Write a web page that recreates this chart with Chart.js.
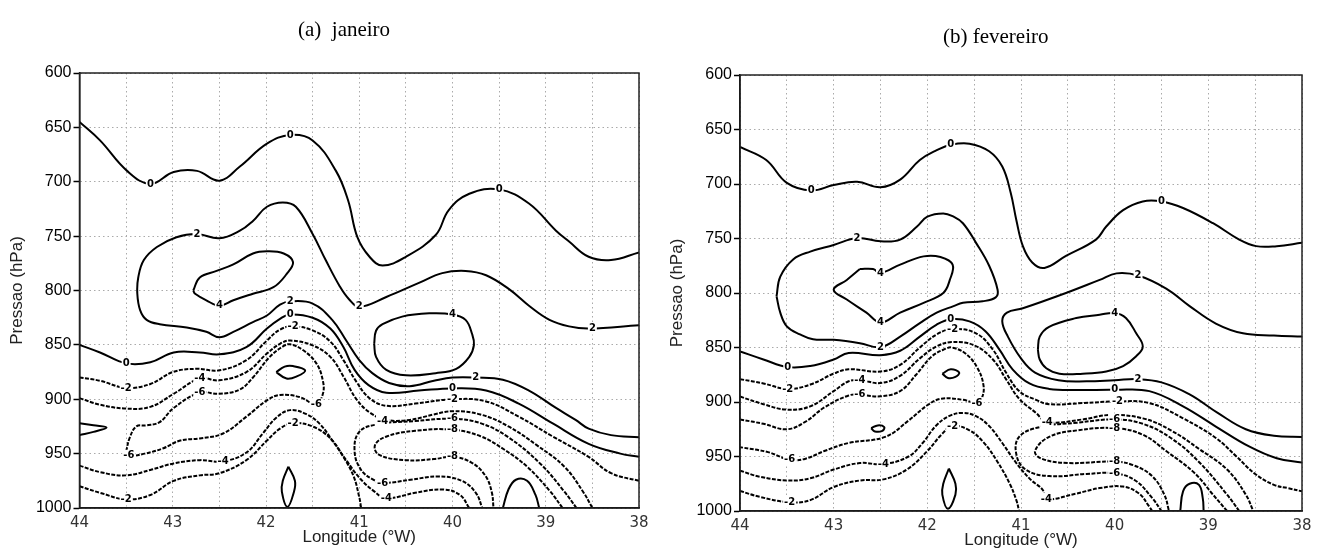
<!DOCTYPE html>
<html>
<head>
<meta charset="utf-8">
<script src="https://cdn.jsdelivr.net/npm/chart.js@4.4.1/dist/chart.umd.min.js"></script>
<style>
  body { margin: 0; background: #fff; width: 1325px; height: 551px; overflow: hidden; position: relative; }
  canvas { position: absolute; top: 0; }
</style>
</head>
<body>
<canvas id="graficoJan" width="660" height="551" style="left:0"></canvas>
<canvas id="graficoFev" width="665" height="551" style="left:660px"></canvas>
<script>
// eixos
const eixoLon = [44, 43, 42, 41, 40, 39, 38];
const eixoPressao = [600, 650, 700, 750, 800, 850, 900, 950, 1000];

// ---- janeiro: isolinhas como pares [longitude (°W), pressao (hPa)] ----
const janZero1 = [[44,645],[43.78,662],[43.49,690],[43.24,702],[42.99,691],[42.74,690],[42.5,699],[42.28,686],[41.99,665],[41.74,657],[41.5,662],[41.25,690],[41.12,717],[41.02,751],[40.89,769],[40.75,777],[40.5,769],[40.18,749],[40.04,726],[39.82,711],[39.5,707],[39.18,720],[38.89,745],[38.75,755],[38.54,769],[38.3,772],[38,765]];
const janDois = [[38,832],[38.54,835],[38.75,833],[38.96,827],[39.18,814],[39.39,799],[39.64,786],[39.86,782],[40.11,784],[40.36,793],[40.71,806],[41,815],[41.11,808],[41.21,796],[41.36,772],[41.5,748],[41.68,723],[41.82,719],[41.99,723],[42.14,736],[42.28,745],[42.5,752],[42.74,748],[42.96,751],[43.17,760],[43.31,772],[43.37,788],[43.38,803],[43.35,818],[43.28,827],[43.14,831],[42.85,834],[42.64,838],[42.5,843],[42.35,838],[42.14,829],[41.99,823],[41.85,813],[41.74,810],[41.5,812],[41.29,827],[41.14,846],[41,864],[40.86,876],[40.68,885],[40.46,888],[40.2,883],[40,880],[39.75,880],[39.46,882],[39.18,892],[38.89,908],[38.68,919],[38.54,927],[38.3,933],[38,935]];
const janQuatro1 = [[42.78,800],[42.71,788],[42.53,782],[42.35,776],[42.14,766],[41.99,764],[41.81,766],[41.71,774],[41.78,785],[41.92,797],[42.14,803],[42.35,809],[42.5,814],[42.64,809],[42.76,803],[42.78,800]];
const janQuatro2 = [[40.84,849],[40.82,837],[40.75,831],[40.54,824],[40.25,821],[40,822],[39.86,827],[39.79,840],[39.77,850],[39.82,861],[39.96,872],[40.18,876],[40.5,878],[40.71,873],[40.82,861],[40.84,849]];
const janZero2 = [[44,850],[43.78,857],[43.5,867],[43.24,866],[42.99,857],[42.71,857],[42.5,858.7],[42.21,852],[41.99,835],[41.85,826],[41.74,822],[41.5,825],[41.31,835],[41.17,852],[41.05,873],[40.9,887],[40.71,894],[40.36,892],[40,890],[39.64,892],[39.29,904],[38.93,922],[38.54,941],[38.2,950],[38,953]];
const janMenos2a = [[44,880],[43.78,883],[43.5,889.6],[43.24,886],[43,875],[42.75,872],[42.5,873.4],[42.21,864],[41.99,846],[41.85,836],[41.71,833],[41.5,836.7],[41.31,847],[41.17,864],[41.03,884],[40.89,899],[40.71,906],[40.4,904],[40,900],[39.64,902],[39.29,916],[38.93,934],[38.54,953],[38.3,968],[38,975]];
const janMenos4a = [[44,899],[43.78,905],[43.5,908.6],[43.24,907],[42.99,895],[42.71,881],[42.5,882.6],[42.21,875],[41.99,858],[41.85,849],[41.74,846],[41.5,850.5],[41.31,861],[41.17,879],[41.03,900],[40.89,912],[40.71,919],[40.46,919],[40.2,914],[40,911],[39.7,914],[39.4,925],[39.1,942],[38.8,962],[38.6,985],[38.5,1000]];
const janMenos6a = [[43.5,948],[43.46,935],[43.39,925],[43.28,924],[43.14,921],[42.99,908],[42.71,894],[42.5,895],[42.28,891],[42.14,880],[41.96,861],[41.81,851],[41.74,849.5],[41.6,855],[41.46,867],[41.39,883],[41.39,895],[41.46,904.6],[41.64,898],[41.85,896],[41.99,901],[42.21,916],[42.46,931.5],[42.71,936],[42.92,938],[43.1,945],[43.3,950],[43.47,952],[43.5,948]];
const janLingua = [[44,922],[43.85,924],[43.71,926],[43.85,930],[44,933]];
const janLaco = [[41.89,875],[41.8,870],[41.71,869.5],[41.58,873.4],[41.67,879],[41.78,881],[41.89,875]];
const janLacoBase = [[41.76,962],[41.82,975],[41.83,985],[41.77,999],[41.7,985],[41.69,975],[41.76,962]];
const janMenos4b = [[44,961],[43.78,967],[43.5,970],[43.24,965],[42.99,959],[42.71,956],[42.46,957],[42.21,949],[42.03,931],[41.89,917],[41.74,910],[41.56,914],[41.42,923],[41.28,939],[41.14,956],[41,972],[40.85,984],[40.71,991],[40.4,986],[40.1,983],[39.92,988],[39.82,1000]];
const janMenos2b = [[44,980],[43.78,986],[43.5,992],[43.24,988],[42.99,975],[42.71,970],[42.5,968],[42.21,956],[41.99,938],[41.85,927],[41.71,922],[41.5,925],[41.31,936],[41.17,953],[41.06,971],[41,990],[40.98,1000]];
const janMenos6b = [[38.67,1000],[38.8,985],[39.05,960],[39.4,935],[39.7,922],[40,918],[40.4,920],[40.8,923],[41,930],[41.05,948],[40.98,965],[40.85,974],[40.75,977],[40.45,974],[40.15,971],[39.9,975],[39.75,986],[39.68,1000]];
const janMenos8 = [[38.82,1000],[38.95,985],[39.2,962],[39.45,946],[39.7,934],[40,928],[40.4,929],[40.7,934],[40.83,942],[40.79,951],[40.5,956],[40.2,955],[40,953],[39.8,958],[39.65,970],[39.58,985],[39.56,1000]];
const janBolso = [[39.46,1000],[39.4,983],[39.32,974],[39.2,975],[39.11,988],[39.07,1000]];

const janRotulos = [
  [43.24,702,'0'],[41.74,657,'0'],[39.5,707,'0'],
  [42.74,748,'2'],[41.74,810,'2'],[41,815,'2'],[39.75,880,'2'],[38.5,835,'2'],
  [42.5,814,'4'],[40,822,'4'],
  [43.5,867,'0'],[41.74,822,'0'],[40,890,'0'],
  [43.5,889.6,'-2'],[41.71,833,'-2'],[40,900,'-2'],
  [42.71,881,'-4'],[40.75,920,'-4'],
  [42.71,894,'-6'],[41.46,904.6,'-6'],[43.47,952,'-6'],
  [40,918,'-6'],[40,928,'-8'],[40,953,'-8'],[40.75,977,'-6'],
  [42.46,957,'-4'],[40.71,991,'-4'],
  [41.71,922,'-2'],[43.5,992,'-2']
];

// ---- fevereiro ----
const fevZero1 = [[44,666],[43.72,678],[43.5,699],[43.24,706],[43,701],[42.75,698],[42.5,703],[42.29,696],[42.08,678],[41.9,669],[41.75,664],[41.55,663],[41.34,670],[41.2,684],[41.11,708],[41.05,733],[40.98,757],[40.88,772],[40.75,777],[40.52,766],[40.2,751],[40.09,739],[39.91,724],[39.7,716],[39.5,716],[39.27,722],[38.95,736],[38.67,751],[38.49,757],[38.27,757],[38,754]];
const fevDois1 = [[43.61,803],[43.57,785],[43.43,769],[43.25,762],[43,756],[42.75,749.6],[42.5,752.6],[42.29,751],[42.11,739],[42,730],[41.83,727],[41.72,730],[41.62,736],[41.48,754],[41.34,775],[41.25,797],[41.27,804],[41.41,807.6],[41.62,809],[41.72,812],[41.9,818],[42.08,827.6],[42.29,840],[42.5,849.7],[42.72,846],[43,843],[43.22,842.5],[43.36,838],[43.5,830.6],[43.57,818],[43.61,803]];
const fevQuatro1 = [[42.72,778],[42.58,778],[42.5,781.6],[42.29,774],[42.04,766.4],[41.86,767],[41.73,774],[41.76,788],[41.83,800],[42.04,809],[42.29,818],[42.5,827],[42.65,818],[42.86,806],[43,797],[42.86,788],[42.72,778]];
const fevDois2 = [[38,840],[38.3,839],[38.63,837],[38.92,828],[39.2,812],[39.45,796],[39.75,784],[39.98,782],[40.16,788],[40.52,800],[40.98,814],[41.15,818],[41.2,826],[41.14,840],[41,860],[40.85,873],[40.6,880],[40.3,881],[40,880],[39.75,879],[39.5,882],[39.2,893],[38.9,910],[38.6,925],[38.3,931],[38,932]];
const fevQuatro2 = [[40.82,852],[40.8,840],[40.7,831],[40.41,823],[40.16,820],[40,818.4],[39.88,823],[39.77,837],[39.7,849],[39.77,858],[39.91,867],[40.09,872],[40.34,874],[40.59,874],[40.73,869],[40.8,861],[40.82,852]];
const fevZero2 = [[44,853.6],[43.75,861],[43.49,868],[43.25,867],[43,861],[42.84,855],[42.5,857],[42.29,853],[42.08,840],[41.9,829],[41.75,824],[41.55,826],[41.38,835],[41.23,852],[41.09,870],[40.91,883],[40.7,888],[40.4,889],[40,888.8],[39.63,890],[39.27,904],[38.92,922.5],[38.56,941],[38.27,951.6],[38,955.6]];
const fevMenos2a = [[44,879],[43.75,883],[43.49,888],[43.25,884],[43,874],[42.84,870],[42.5,872],[42.29,866],[42.08,850],[41.9,838],[41.73,833],[41.48,837],[41.3,852],[41.16,873],[41.02,890],[40.84,898],[40.7,902],[40.34,901],[39.97,899.5],[39.63,901],[39.27,915],[38.92,933],[38.7,950],[38.5,966],[38.3,976],[38.15,979],[38,982]];
const fevMenos4a = [[44,895],[43.75,902],[43.5,907],[43.25,904],[43,890],[42.84,881],[42.72,880],[42.5,882.6],[42.29,876],[42.08,860],[41.9,849],[41.74,845],[41.5,848],[41.3,861],[41.16,879],[41.02,897],[40.84,910],[40.72,918.5],[40.34,916],[40.06,912],[39.7,915],[39.4,926],[39.1,943],[38.8,962],[38.6,985],[38.52,1000]];
const fevMenos6a = [[44,916],[43.75,920],[43.5,925],[43.3,918],[43.1,905],[42.84,894],[42.72,893.4],[42.5,894.8],[42.29,890],[42.12,875],[41.95,858],[41.8,851],[41.74,850],[41.6,855],[41.47,868],[41.4,885],[41.42,897],[41.47,901],[41.62,898],[41.85,897],[42,903],[42.2,917],[42.45,932],[42.84,937.6],[43.1,945],[43.3,952],[43.47,953],[43.7,946],[44,941.4]];
const fevLacinho = [[42.6,924],[42.53,921.5],[42.46,923],[42.48,926.5],[42.56,927],[42.6,924]];
const fevLaco = [[41.84,874],[41.75,870],[41.66,873],[41.7,877],[41.78,878],[41.84,874]];
const fevLacoBase = [[41.77,961],[41.83,975],[41.84,985],[41.78,998],[41.7,985],[41.7,975],[41.77,961]];
const fevMenos4b = [[44,963],[43.79,968.5],[43.49,972],[43.25,970],[43,962],[42.72,956],[42.47,957],[42.2,950],[42.05,937.6],[41.91,922],[41.77,913],[41.62,910],[41.48,913],[41.34,922],[41.2,937.6],[41.05,956],[40.9,971],[40.77,980.4],[40.73,989],[40.41,984],[40.16,979],[39.91,977.6],[39.74,984],[39.63,996],[39.6,1000]];
const fevMenos2b = [[44,981.6],[43.79,987],[43.47,992],[43.25,990],[43,978],[42.72,972],[42.47,971],[42.22,962],[42,945],[41.85,930],[41.73,922],[41.55,926],[41.4,937],[41.25,955],[41.12,975],[41.05,990],[41.02,1000]];
const fevMenos6b = [[38.67,1000],[38.8,985],[39.1,955],[39.4,933],[39.7,920],[40,916],[40.4,919],[40.8,923],[41.02,932],[41.05,948],[40.95,962],[40.7,968],[40.3,966],[40,965.4],[39.78,972],[39.6,988],[39.5,1000]];
const fevMenos8 = [[38.8,1000],[38.95,985],[39.15,965],[39.45,945],[39.7,930],[40,924],[40.4,926],[40.7,932],[40.85,945],[40.78,952],[40.5,956],[40,954.7],[39.8,958],[39.6,968],[39.47,985],[39.42,1000]];
const fevBolso = [[39.3,1000],[39.27,982],[39.2,975],[39.1,976],[39.06,988],[39.05,1000]];

const fevRotulos = [
  [43.24,706,'0'],[41.75,664,'0'],[39.5,716,'0'],
  [42.75,749.6,'2'],[42.5,849.7,'2'],[39.75,784,'2'],[39.75,879,'2'],
  [42.5,781.6,'4'],[42.5,827,'4'],[40,818.4,'4'],
  [43.49,868,'0'],[41.75,824,'0'],[40,888.8,'0'],
  [43.49,888,'-2'],[41.73,833,'-2'],[39.97,899.5,'-2'],
  [42.72,880,'-4'],[40.72,918.5,'-4'],
  [42.72,893.4,'-6'],[41.47,901,'-6'],[43.47,953,'-6'],
  [40,916,'-6'],[40,924,'-8'],[40,954.7,'-8'],[40,965.4,'-6'],
  [42.47,957,'-4'],[40.73,989,'-4'],
  [41.73,922,'-2'],[43.47,992,'-2']
];

// nivel de cada isolinha (negativas tracejadas)
const janIsolinhas = [
  [janZero1, 0], [janDois, 2], [janQuatro1, 4], [janQuatro2, 4], [janZero2, 0],
  [janMenos2a, -2], [janMenos4a, -4], [janMenos6a, -6], [janLingua, 0], [janLaco, 0],
  [janLacoBase, 0], [janMenos4b, -4], [janMenos2b, -2], [janMenos6b, -6], [janMenos8, -8], [janBolso, 0]
];
const fevIsolinhas = [
  [fevZero1, 0], [fevDois1, 2], [fevQuatro1, 4], [fevDois2, 2], [fevQuatro2, 4], [fevZero2, 0],
  [fevMenos2a, -2], [fevMenos4a, -4], [fevMenos6a, -6], [fevLacinho, 0], [fevLaco, 0],
  [fevLacoBase, 0], [fevMenos4b, -4], [fevMenos2b, -2], [fevMenos6b, -6], [fevMenos8, -8], [fevBolso, 0]
];

// moldura fechada em volta da area do grafico
const moldura = {
  id: 'moldura',
  afterDraw(chart) {
    const { ctx, chartArea: a } = chart;
    ctx.save();
    ctx.strokeStyle = '#222';
    ctx.lineWidth = 1.5;
    ctx.strokeRect(a.left, a.top, a.right - a.left, a.bottom - a.top);
    ctx.restore();
  }
};

// rotulos das isolinhas com fundo branco
const rotulos = {
  id: 'rotulos',
  afterDatasetsDraw(chart, args, opts) {
    const { ctx, scales: { x, y } } = chart;
    ctx.save();
    ctx.font = 'bold 10px "DejaVu Sans"';
    ctx.textAlign = 'center';
    ctx.textBaseline = 'middle';
    for (const [lon, p, txt] of opts.lista) {
      const px = x.getPixelForValue(lon);
      const py = y.getPixelForValue(p);
      const w = ctx.measureText(txt).width + 2;
      ctx.fillStyle = '#fff';
      ctx.fillRect(px - w / 2, py - 6, w, 12);
      ctx.fillStyle = '#000';
      ctx.fillText(txt, px, py);
    }
    ctx.restore();
  }
};

// titulo do painel (a)/(b)
const tituloPainel = {
  id: 'tituloPainel',
  afterDraw(chart, args, opts) {
    const { ctx } = chart;
    ctx.save();
    ctx.font = '21px "Liberation Serif"';
    ctx.fillStyle = '#000';
    ctx.textAlign = 'left';
    ctx.textBaseline = 'alphabetic';
    ctx.fillText(opts.texto, opts.x, opts.y);
    ctx.restore();
  }
};

function montarDatasets(isolinhas) {
  return isolinhas.map(([pontos, nivel]) => ({
    data: pontos.map(([x, y]) => ({ x, y })),
    showLine: true,
    pointRadius: 0,
    borderColor: '#000',
    borderWidth: 2,
    tension: 0.4,
    borderDash: nivel < 0 ? [4, 1.5] : []
  }));
}

function criarGrafico(id, isolinhas, lista, titulo, aj) {
  return new Chart(document.getElementById(id), {
    type: 'scatter',
    data: { datasets: montarDatasets(isolinhas) },
    options: {
      responsive: false,
      animation: false,
      events: [],
      layout: { padding: { left: 0, right: aj.direita, top: aj.topo, bottom: 0 } },
      plugins: {
        legend: { display: false },
        tooltip: { enabled: false },
        rotulos: { lista },
        tituloPainel: titulo
      },
      scales: {
        x: {
          type: 'linear', min: 38, max: 44, reverse: true,
          afterFit: s => { s.height = aj.alturaX; },
          ticks: {
            stepSize: 0.5, autoSkip: false, maxRotation: 0, padding: 6,
            font: { family: 'DejaVu Sans', size: 15 }, color: '#333',
            callback: v => eixoLon.includes(v) ? String(v) : ''
          },
          grid: { color: '#aaa', lineWidth: 1, drawTicks: false },
          border: { color: '#000', width: 1.5, dash: [1.5, 3] },
          title: {
            display: true, text: 'Longitude (°W)', color: '#222',
            font: { family: 'Liberation Sans', size: 17 },
            padding: { top: 0, bottom: aj.tituloX }
          }
        },
        y: {
          type: 'linear', min: 600, max: 1000, reverse: true,
          afterFit: s => { s.width = aj.larguraY; },
          ticks: {
            stepSize: 50, padding: 2,
            font: { family: 'Liberation Sans', size: 16 }, color: '#000',
            callback: v => eixoPressao.includes(v) ? String(v) : ''
          },
          grid: { color: '#aaa', lineWidth: 1, tickColor: '#000', tickLength: 6, tickWidth: 1.5 },
          border: { color: '#000', width: 1.5, dash: [1.5, 3] },
          title: {
            display: true, text: 'Pressao (hPa)', color: '#222',
            font: { family: 'Liberation Sans', size: 17 },
            padding: { top: 7, bottom: 0 }
          }
        }
      }
    },
    plugins: [moldura, rotulos, tituloPainel]
  });
}

criarGrafico('graficoJan', janIsolinhas, janRotulos,
  { texto: '(a)  janeiro', x: 298, y: 36 },
  { direita: 21, topo: 73, alturaX: 43, larguraY: 79.5, tituloX: 3 });
criarGrafico('graficoFev', fevIsolinhas, fevRotulos,
  { texto: '(b) fevereiro', x: 283, y: 43 },
  { direita: 23, topo: 75, alturaX: 40, larguraY: 80, tituloX: 0 });
</script>
</body>
</html>
